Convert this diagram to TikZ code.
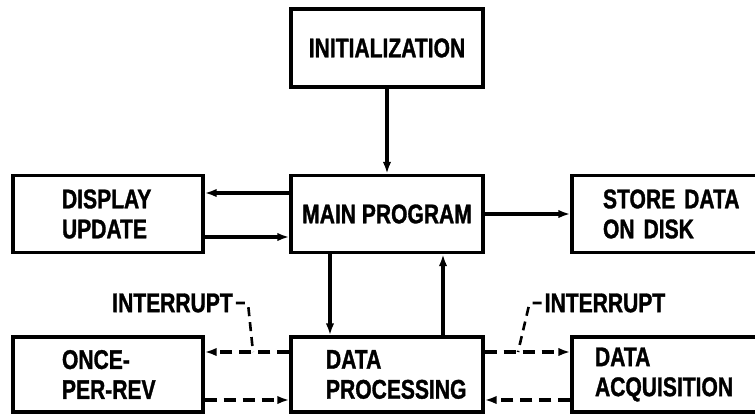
\documentclass[tikz,border=0pt]{standalone}
\usepackage{fontspec}
\newfontfamily\lettering{Liberation Sans}[FakeStretch=0.78,FakeBold=1.2]
\usetikzlibrary{arrows.meta}
\begin{document}
\begin{tikzpicture}[x=1pt,y=-1pt,
  txt/.style={font=\lettering\bfseries\fontsize{27}{30}\selectfont},
  box/.style={txt,draw,line width=3.4pt,inner sep=0pt,minimum height=77pt,align=center},
  lbox/.style={txt,draw,line width=3.4pt,inner ysep=0pt,minimum height=77pt,align=left},
  arr/.style={line width=3.2pt,-{Latex[length=12pt,width=8.5pt]}},
  darr/.style={arr,dash pattern=on 12pt off 7pt},
  leader/.style={line width=2.6pt,dash pattern=on 9pt off 6pt,rounded corners=3pt},
  lab/.style={txt,inner sep=0pt}]
\useasboundingbox (0,0) rectangle (755,416);
\clip (0,0) rectangle (755,416);
% boxes
\node[box,minimum width=192pt,minimum height=78pt] (init) at (387,48) {INITIALIZATION};
\node[box,minimum width=192pt] (main) at (387,214) {MAIN PROGRAM};
\node[lbox,inner xsep=49pt,text width=92pt] (disp) at (108,214) {\mbox{DISPLAY}\\\mbox{UPDATE}};
\node[lbox,inner xsep=31pt,text width=156pt] (store) at (681,214) {\mbox{STORE DATA}\\\mbox{ON DISK}};
\node[lbox,inner xsep=49pt,text width=92pt,minimum height=75pt] (once) at (108,374.5) {\mbox{ONCE-}\\\mbox{PER-REV}};
\node[lbox,inner xsep=35pt,text width=122pt,minimum height=75pt] (dp) at (387,374.5) {\mbox{DATA}\\\mbox{PROCESSING}};
\node[lbox,inner xsep=23pt,text width=172pt,minimum height=75pt] (acq) at (681,374.5) {\mbox{DATA}\\\mbox{ACQUISITION}};
% solid connectors
\draw[arr] (init) -- (main);
\draw[arr] ([yshift=21pt]main.west) -- ([yshift=21pt]disp.east);
\draw[arr] ([yshift=-23pt]disp.east) -- ([yshift=-23pt]main.west);
\draw[arr] (main) -- (store);
\draw[arr] ([xshift=-57pt]main.south) -- ([xshift=-57pt]dp.north);
\draw[arr] ([xshift=56pt]dp.north) -- ([xshift=56pt]main.south);
% dashed connectors
\draw[darr] ([yshift=22.5pt]dp.west) -- ([yshift=22.5pt]once.east);
\draw[darr] ([yshift=-25.5pt]once.east) -- ([yshift=-25.5pt]dp.west);
\draw[darr] ([yshift=22.5pt]dp.east) -- ([yshift=22.5pt]acq.west);
\draw[darr] ([yshift=-25.5pt]acq.west) -- ([yshift=-25.5pt]dp.east);
% interrupt labels
\node[lab] (lint) at (172.5,303) {INTERRUPT};
\node[lab] (rint) at (605,303) {INTERRUPT};
\coordinate (lt) at (253,352);
\coordinate (rt) at (518,352);
\draw[leader] ([xshift=3pt]lint.east) -- ++(12,0) -- (lt);
\draw[leader] ([xshift=-3pt]rint.west) -- ++(-12,0) -- (rt);
\end{tikzpicture}
\end{document}
